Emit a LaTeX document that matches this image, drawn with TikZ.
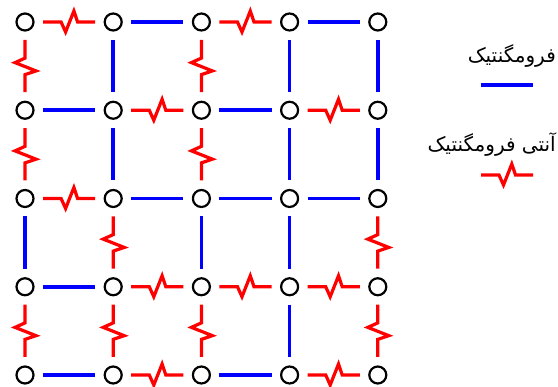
\documentclass[tikz,border=0pt]{standalone}
\usepackage{fontspec}
\newfontfamily\arabicfont[Script=Arabic]{DejaVu Sans}
\TeXXeTstate=1
\usetikzlibrary{decorations}

% Single spin-flip kink in the middle of a straight bond
\pgfdeclaredecoration{afmzig}{first}{
  \state{first}[width=0.5*\pgfdecoratedpathlength, next state=final]{
    \pgfpathlineto{\pgfpoint{0.5*\pgfdecoratedpathlength-8pt}{0pt}}
    \pgfpathlineto{\pgfpoint{0.5*\pgfdecoratedpathlength-3.5pt}{-10pt}}
    \pgfpathlineto{\pgfpoint{0.5*\pgfdecoratedpathlength+4.8pt}{11pt}}
    \pgfpathlineto{\pgfpoint{0.5*\pgfdecoratedpathlength+8.5pt}{0pt}}
  }
  \state{final}{\pgfpathlineto{\pgfpointdecoratedpathlast}}
}

\begin{document}
\begin{tikzpicture}[x=1pt,y=1pt,
  site/.style={circle, draw=black, line width=2.2pt, minimum size=17pt,
               inner sep=0pt, outer sep=9.5pt},
  fm/.style={draw=blue, line width=3.6pt},
  afm/.style={draw=red, line width=3.2pt, decorate, decoration=afmzig},
  lbl/.style={font=\arabicfont\fontsize{20}{24}\selectfont, anchor=east, inner sep=0pt}]
\useasboundingbox[fill=white] (0,0) rectangle (558,-387);

% lattice sites n<col><row>
\foreach \i in {0,...,4}
  \foreach \j in {0,...,4}
    \node[site] (n\i\j) at ({25+88.2*\i},{-22-88.25*\j}) {};

% horizontal bonds
\foreach \a/\b/\t in {00/10/afm, 10/20/fm, 20/30/afm, 30/40/fm,
                      01/11/fm, 11/21/afm, 21/31/fm, 31/41/afm,
                      02/12/afm, 12/22/fm, 22/32/fm, 32/42/fm,
                      03/13/fm, 13/23/afm, 23/33/afm, 33/43/afm,
                      04/14/fm, 14/24/afm, 24/34/fm, 34/44/afm}
  \draw[\t] (n\a) -- (n\b);

% vertical bonds
\foreach \a/\b/\t in {00/01/afm, 01/02/afm, 02/03/fm, 03/04/afm,
                      10/11/fm, 11/12/fm, 12/13/afm, 13/14/afm,
                      20/21/afm, 21/22/afm, 22/23/fm, 23/24/afm,
                      30/31/fm, 31/32/fm, 32/33/fm, 33/34/fm,
                      40/41/fm, 41/42/fm, 42/43/afm, 43/44/afm}
  \draw[\t] (n\a) -- (n\b);

% legend
\node[lbl] (fmlabel) at (556,-56) {\beginR فرومگنتیک\endR};
\coordinate (fmA) at (481,-85);
\coordinate (fmB) at (533,-85);
\draw[fm] (fmA) -- (fmB);

\node[lbl] (afmlabel) at (556,-145) {\beginR آنتی فرومگنتیک\endR};
\coordinate (afmA) at (481,-175);
\coordinate (afmB) at (533,-175);
\draw[afm] (afmA) -- (afmB);
\end{tikzpicture}
\end{document}
